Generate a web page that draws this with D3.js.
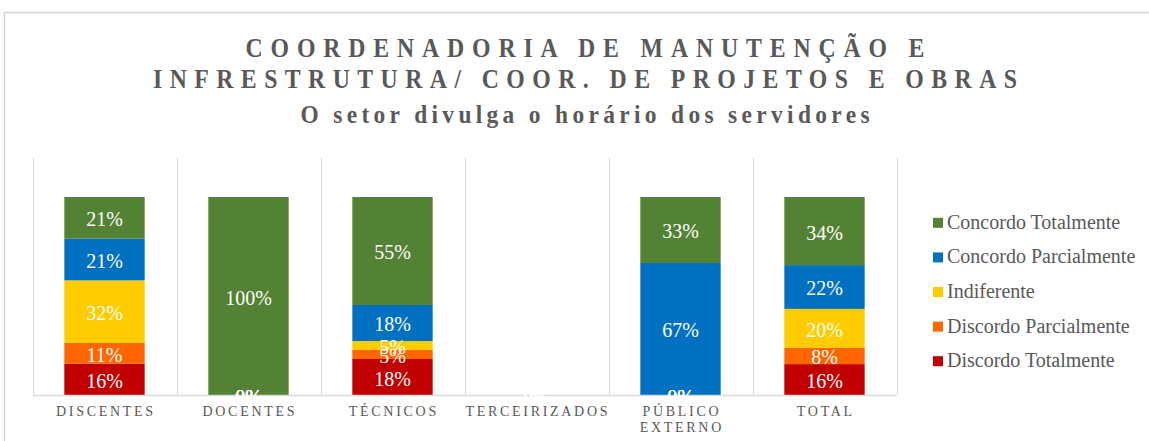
<!DOCTYPE html>
<html>
<head>
<meta charset="utf-8">
<script src="https://cdn.jsdelivr.net/npm/d3@7"></script>
<style>
  html, body { margin: 0; padding: 0; background: #ffffff; }
  svg { display: block; }
</style>
</head>
<body>
<svg id="chart" width="1149" height="441"></svg>
<script>
// Categories along the x axis
const categories = ["DISCENTES", "DOCENTES", "TÉCNICOS", "TERCEIRIZADOS", "PÚBLICO EXTERNO", "TOTAL"];

// Answer shares per category (fractions of respondents)
const discordoTotalmente   = [0.1579, 0, 0.1818, 0, 0,      0.156];
const discordoParcialmente = [0.1053, 0, 0.0455, 0, 0,      0.082];
const indiferente          = [0.3158, 0, 0.0455, 0, 0,      0.197];
const concordoParcialmente = [0.2105, 0, 0.1818, 0, 0.6667, 0.221];
const concordoTotalmente   = [0.2105, 1, 0.5455, 0, 0.3333, 0.344];

// Series, in stacking order (bottom to top)
const seriesNames  = ["Discordo Totalmente", "Discordo Parcialmente", "Indiferente", "Concordo Parcialmente", "Concordo Totalmente"];
const seriesValues = [discordoTotalmente, discordoParcialmente, indiferente, concordoParcialmente, concordoTotalmente];
const seriesColors = ["#C00000", "#FF6600", "#FFCC00", "#0070C0", "#548235"];

// Title lines
const titleLines = ["COORDENADORIA DE MANUTENÇÃO E", "INFRESTRUTURA/ COOR. DE PROJETOS E OBRAS"];
const subtitle = "O setor divulga o horário dos servidores";

const serif = "'Liberation Serif', 'Times New Roman', serif";
const textGrey = "#595959";
const lineGrey = "#d9d9d9";

const svg = d3.select("#chart");

// Chart area border
svg.append("rect")
  .attr("x", 4.5).attr("y", 12.5)
  .attr("width", 1300).attr("height", 600)
  .attr("fill", "none")
  .attr("stroke", "#d4d4d4")
  .attr("stroke-width", 1.5);

// Titles: narrow, widely tracked bold serif
const titleSpecs = [
  { text: titleLines[0], y: 57,    len: 679, size: 28, squeeze: 0.85 },
  { text: titleLines[1], y: 88,    len: 864, size: 28, squeeze: 0.85 },
  { text: subtitle,      y: 123,   len: 569, size: 26, squeeze: 0.9 }
];
svg.append("g").selectAll("text")
  .data(titleSpecs)
  .join("text")
  .attr("transform", d => `translate(585,${d.y}) scale(${d.squeeze},1)`)
  .attr("x", 0)
  .attr("y", 0)
  .attr("text-anchor", "middle")
  .attr("font-family", serif)
  .attr("font-weight", "bold")
  .attr("font-size", d => d.size)
  .attr("fill", textGrey)
  .attr("textLength", d => d.len / d.squeeze)
  .attr("lengthAdjust", "spacing")
  .text(d => d.text);

// Table built from the series arrays
const table = categories.map((c, i) => {
  const row = { category: c };
  seriesNames.forEach((s, k) => { row[s] = seriesValues[k][i]; });
  return row;
});
const stacked = d3.stack().keys(seriesNames)(table);

// Scales
const plotLeft = 32.5, plotRight = 896.5, plotBottom = 395;
const x = d3.scaleBand()
  .domain(categories)
  .range([plotLeft, plotRight])
  .paddingInner(0.442)
  .paddingOuter(0.221);
const y = d3.scaleLinear().domain([0, 1.2]).range([plotBottom, 157.4]);
const color = d3.scaleOrdinal().domain(seriesNames).range(seriesColors);

// Vertical gridlines on category boundaries
const half = (x.step() - x.bandwidth()) / 2;
const bounds = categories.map(c => x(c) - half).concat([x(categories[categories.length - 1]) + x.bandwidth() + half]);
svg.append("g").selectAll("line")
  .data(bounds)
  .join("line")
  .attr("x1", d => Math.round(d) + 0.5).attr("x2", d => Math.round(d) + 0.5)
  .attr("y1", y(1.2)).attr("y2", plotBottom)
  .attr("stroke", lineGrey)
  .attr("stroke-width", 1);

// Stacked bars
const layers = svg.append("g").selectAll("g")
  .data(stacked)
  .join("g")
  .attr("fill", d => color(d.key));
layers.selectAll("rect")
  .data(d => d)
  .join("rect")
  .attr("x", d => x(d.data.category))
  .attr("width", x.bandwidth())
  .attr("y", d => y(d[1]))
  .attr("height", d => y(d[0]) - y(d[1]));

// Category axis
const letterSpacing = 2.7;
const axis = svg.append("g")
  .attr("transform", `translate(0,${plotBottom})`)
  .call(d3.axisBottom(x).tickSize(0).tickSizeOuter(0));
axis.select(".domain").attr("stroke", lineGrey).attr("stroke-width", 1.5);
axis.selectAll(".tick text")
  .attr("font-family", serif)
  .attr("font-size", 14)
  .attr("fill", textGrey)
  .style("letter-spacing", letterSpacing + "px")
  .attr("y", 0)
  .attr("dy", null)
  .each(function (d) {
    const t = d3.select(this);
    const words = d.split(" ");
    t.text(null);
    const lines = [];
    let current = [];
    words.forEach(w => {
      const trial = current.concat([w]).join(" ");
      t.text(trial);
      if (current.length && this.getComputedTextLength() > x.step() - 4) {
        lines.push(current.join(" "));
        current = [w];
      } else {
        current.push(w);
      }
    });
    lines.push(current.join(" "));
    t.text(null);
    lines.forEach((ln, i) => {
      t.append("tspan")
        .attr("x", letterSpacing / 2)
        .attr("y", 21 + i * 15.7)
        .text(ln);
    });
  });

// Data labels
const labelGroups = svg.append("g").selectAll("g")
  .data(stacked)
  .join("g");
labelGroups.selectAll("text")
  .data(d => d)
  .join("text")
  .attr("x", d => x(d.data.category) + x.bandwidth() / 2)
  .attr("y", d => (y(d[0]) + y(d[1])) / 2 + 8.5)
  .attr("text-anchor", "middle")
  .attr("font-family", serif)
  .attr("font-size", 20)
  .attr("fill", "#ffffff")
  .text(d => d3.format(".0%")(d[1] - d[0]));

// Legend (top series first)
const legendItems = seriesNames.slice().reverse();
const legend = svg.append("g").selectAll("g")
  .data(legendItems)
  .join("g")
  .attr("transform", (d, i) => `translate(933,${222.8 + i * 34.6})`);
legend.append("rect")
  .attr("x", 0).attr("y", -5)
  .attr("width", 10).attr("height", 10)
  .attr("fill", d => color(d));
legend.append("text")
  .attr("x", 14).attr("y", 6)
  .attr("font-family", serif)
  .attr("font-size", 20)
  .attr("fill", textGrey)
  .text(d => d);
</script>
</body>
</html>
